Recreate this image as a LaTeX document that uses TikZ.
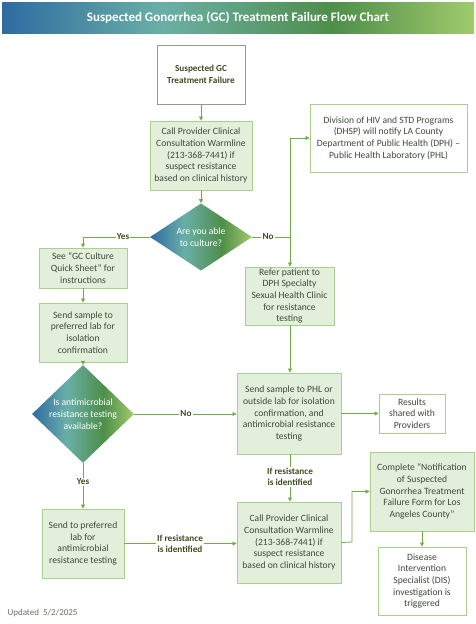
\documentclass[tikz,border=0pt]{standalone}
\usepackage{fontspec}
\setmainfont{Carlito}
\usetikzlibrary{shapes.geometric,arrows.meta}
\definecolor{gA}{HTML}{2E6BA2}
\definecolor{gB}{HTML}{6AAFA6}
\definecolor{gC}{HTML}{4E8E4A}
\definecolor{gD}{HTML}{A0CB6C}
\definecolor{boxfill}{HTML}{E2EFDA}
\definecolor{boxline}{HTML}{A9D18E}
\definecolor{startline}{HTML}{949C88}
\definecolor{txt}{HTML}{3E4B3C}
\definecolor{olive}{HTML}{3F4A1F}
\definecolor{arrowc}{HTML}{70AD47}
\definecolor{upd}{HTML}{667560}
\pgfdeclarehorizontalshading{gcgrad}{100bp}{color(0bp)=(gA); color(25bp)=(gA); color(42bp)=(gB); color(60bp)=(gC); color(75bp)=(gD); color(100bp)=(gD)}
\begin{document}
\begin{tikzpicture}[x=1pt,y=-1pt,
  bodyfont/.style={font=\fontsize{9.6}{11.7}\selectfont},
  gbox/.style={draw=boxline, line width=0.9pt, fill=boxfill, align=center, text=txt, bodyfont, inner sep=0pt},
  wbox/.style={gbox, fill=white},
  dec/.style={diamond, shading=gcgrad, align=center, text=white, bodyfont, inner sep=0pt},
  conn/.style={draw=arrowc, line width=0.8pt, -{Triangle[length=4pt,width=4pt]}},
  plain/.style={draw=arrowc, line width=0.8pt},
  lab/.style={fill=white, inner sep=1pt, font=\bfseries\fontsize{9.2}{11}\selectfont, text=olive, align=center}
]
\useasboundingbox (0,0) rectangle (476,624);
\fill[white] (0,0) rectangle (476,624);
% title
\shade[shading=gcgrad] (2,2) rectangle (474,33);
\node[text=white, font=\bfseries\fontsize{13}{15}\selectfont] (title) at (238,17.5) {Suspected Gonorrhea (GC) Treatment Failure Flow Chart};

% nodes
\node[draw=startline, line width=0.9pt, fill=white, minimum width=88pt, minimum height=59pt, align=center, text=olive, font=\bfseries\fontsize{9.2}{11.7}\selectfont] (start) at (201,74.5) {Suspected GC\\Treatment Failure};
\node[gbox, minimum width=102pt, minimum height=69pt] (call1) at (201,155.5) {Call Provider Clinical\\Consultation Warmline\\(213-368-7441) if\\suspect resistance\\based on clinical history};
\node[wbox, minimum width=157pt, minimum height=68pt] (dhsp) at (388.5,138) {Division of HIV and STD Programs\\(DHSP) will notify LA County\\Department of Public Health (DPH) --\\Public Health Laboratory (PHL)};
\node[dec, minimum width=102pt, minimum height=58pt] (d1) at (201,237) {Are you able\\to culture?};
\node[gbox, minimum width=88pt, minimum height=40pt] (see) at (83,268) {See ``GC Culture\\Quick Sheet'' for\\instructions};
\node[gbox, minimum width=88pt, minimum height=59pt] (send1) at (83,332.5) {Send sample to\\preferred lab for\\isolation\\confirmation};
\node[dec, minimum width=102pt, minimum height=79pt] (d2) at (83,414) {Is antimicrobial\\resistance testing\\available?};
\node[gbox, minimum width=89pt, minimum height=58pt] (refer) at (289.5,296) {Refer patient to\\DPH Specialty\\Sexual Health Clinic\\for resistance\\testing};
\node[gbox, minimum width=104pt, minimum height=81pt] (phl) at (289,413.5) {Send sample to PHL or\\outside lab for isolation\\confirmation, and\\antimicrobial resistance\\testing};
\node[wbox, minimum width=66pt, minimum height=39pt] (results) at (412,413.5) {Results\\shared with\\Providers};
\node[gbox, minimum width=104pt, minimum height=81pt] (call2) at (289,542.5) {Call Provider Clinical\\Consultation Warmline\\(213-368-7441) if\\suspect resistance\\based on clinical history};
\node[gbox, minimum width=82pt, minimum height=69pt] (pref) at (83,543.5) {Send to preferred\\lab for\\antimicrobial\\resistance testing};
\node[gbox, minimum width=104pt, minimum height=79pt] (complete) at (422,491.5) {Complete ``Notification\\of Suspected\\Gonorrhea Treatment\\Failure Form for Los\\Angeles County''};
\node[wbox, minimum width=88pt, minimum height=68pt] (dis) at (422,581) {Disease\\Intervention\\Specialist (DIS)\\investigation is\\triggered};
\node[anchor=west, text=upd, font=\fontsize{9}{11}\selectfont] (upd) at (4,613) {Updated\ \ 5/2/2025};

% connectors
\draw[conn] (start) -- (call1);
\draw[conn] (call1) -- (d1);
\draw[conn] (d1.west) -| (see.north);
\node[lab] (yes1) at (123,237) {Yes};
\coordinate (j1) at (290,237);
\draw[plain] (d1.east) -- (j1);
\draw[conn] (j1) -- (refer.north -| j1);
\draw[conn] (j1) |- (dhsp.west);
\node[lab] (no1) at (268,237) {No};
\draw[conn] (see) -- (send1);
\draw[conn] (send1) -- (d2);
\draw[conn] (d2.east) -- (d2.east -| phl.west);
\node[lab] (no2) at (186,414) {No};
\draw[conn] (phl.east) -- (phl.east -| results.west);
\draw[conn] (refer.south -| j1) -- (phl.north -| j1);
\draw[conn] (phl.south -| j1) -- (call2.north -| j1);
\node[lab] (ifr1) at (290,477) {If resistance\\is identified};
\draw[conn] (d2.south) -- (pref.north);
\node[lab] (yes2) at (83,482) {Yes};
\draw[conn] (pref.east) -- (pref.east -| call2.west);
\node[lab] (ifr2) at (180,544) {If resistance\\is identified};
\coordinate (j2) at (352,542);
\draw[conn] (call2.east) -- (j2) |- (complete.west);
\draw[conn] (complete) -- (dis);
\end{tikzpicture}
\end{document}
